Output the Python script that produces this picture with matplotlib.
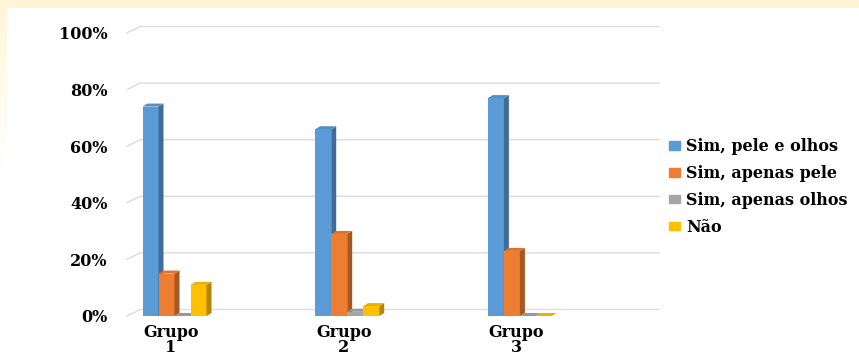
import numpy as np
import matplotlib
matplotlib.use("Agg")
import matplotlib.pyplot as plt
from matplotlib.patches import Polygon, Patch
from matplotlib.colors import to_rgb

# data (percent)
grupos = ["Grupo\n1", "Grupo\n2", "Grupo\n3"]
series = ["Sim, pele e olhos", "Sim, apenas pele", "Sim, apenas olhos", "Não"]
pele_olhos = [74, 66, 77]
apenas_pele = [15, 29, 23]
apenas_olhos = [0, 1.5, 0]
nao = [11, 3.5, 0]
ticks = [0, 20, 40, 60, 80, 100]
tick_labels = ["0%", "20%", "40%", "60%", "80%", "100%"]

cores = ["#5B9BD5", "#ED7D31", "#A5A5A5", "#FFC000"]
valores = [pele_olhos, apenas_pele, apenas_olhos, nao]

W, H = 859, 356
fig = plt.figure(figsize=(W / 100, H / 100), dpi=100)

# cream frame behind the white chart area
bg = fig.add_axes([0, 0, 1, 1], zorder=-10)
img = np.ones((H, W, 3))
cream = np.array([1.0, 0.965, 0.85])
img[:8, :, :] = cream
fade = np.clip(1 - np.arange(H) / 170.0, 0, 1)[:, None, None]
img[:, :7, :] = 1 - fade * (1 - cream)
bg.imshow(img, aspect="auto", interpolation="bilinear")
bg.axis("off")

# main axes: pixels 127..659 horizontally, 316 (0%) up to 25
px_per_unit_x = 172.7
px_per_pct = 2.83
left_px, right_px, base_px, top_px = 127, 659, 316, 25
ax = fig.add_axes([left_px / W, (H - base_px) / H,
                   (right_px - left_px) / W, (base_px - top_px) / H])
ax.patch.set_alpha(0)
x0 = (left_px - 174.5) / px_per_unit_x
x1 = (right_px - 174.5) / px_per_unit_x
ax.set_xlim(x0, x1)
ax.set_ylim(0, (base_px - top_px) / px_per_pct)
for s in ax.spines.values():
    s.set_visible(False)

# 3D-ish gridlines: short diagonal at front then back wall line
gdx = 13 / px_per_unit_x
gdy = 6.5 / px_per_pct
for t in ticks:
    ax.plot([x0, x0 + gdx, x1], [t, t + gdy, t + gdy], color="#DCDCDC",
            lw=1.0, zorder=1, clip_on=False)

ax.set_yticks(ticks)
ax.set_yticklabels(tick_labels)
ax.tick_params(axis="y", length=0, pad=14)
cats = np.arange(len(grupos))
ax.set_xticks(cats - 0.02)
ax.set_xticklabels(grupos, linespacing=0.82)
ax.tick_params(axis="x", length=0, pad=6)
for lab in ax.get_xticklabels() + ax.get_yticklabels():
    lab.set_fontfamily("DejaVu Serif")
    lab.set_fontweight("bold")
    lab.set_fontsize(11.5)

# bars with a small side and top face
w = 16 / px_per_unit_x
ddx = 5 / px_per_unit_x
ddy = 3 / px_per_pct
z = 2
for i in cats:
    for k, vals in enumerate(valores):
        h = vals[i]
        c = np.array(to_rgb(cores[k]))
        xl = i + (k - 2) * w
        ax.bar(xl, h, w, align="edge", color=c, lw=0, zorder=z)
        side = [(xl + w, 0), (xl + w + ddx, ddy), (xl + w + ddx, h + ddy), (xl + w, h)]
        top = [(xl, h), (xl + ddx, h + ddy), (xl + w + ddx, h + ddy), (xl + w, h)]
        ax.add_patch(Polygon(side, closed=True, color=c * 0.7, lw=0, zorder=z))
        ax.add_patch(Polygon(top, closed=True, color=c * 0.92, lw=0, zorder=z))
        z += 1

handles = [Patch(color=c) for c in cores]
fig.legend(handles, series, loc="upper left",
           bbox_to_anchor=(669 / W, 1 - 138 / H), frameon=False,
           borderpad=0, borderaxespad=0, handlelength=0.7, handleheight=0.45,
           handletextpad=0.35, labelspacing=0.62,
           prop={"family": "DejaVu Serif", "weight": "bold", "size": 11.5})

fig.savefig("out.png", dpi=100)
